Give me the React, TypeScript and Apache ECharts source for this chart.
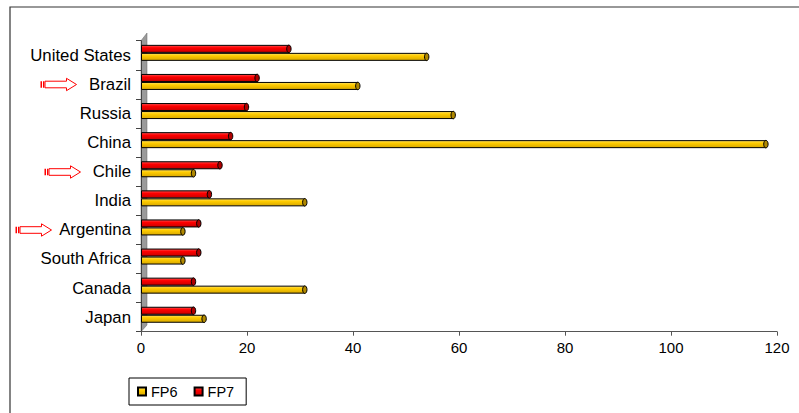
import React, { useEffect, useRef } from "react";
import * as echarts from "echarts";

const categories = ["United States", "Brazil", "Russia", "China", "Chile", "India", "Argentina", "South Africa", "Canada", "Japan"];
const fp6Values = [54, 41, 59, 118, 10, 31, 8, 8, 31, 12];
const fp7Values = [28, 22, 20, 17, 15, 13, 11, 11, 10, 10];

const yellowGrad = new echarts.graphic.LinearGradient(0, 0, 0, 1, [
  { offset: 0, color: "#FFE060" },
  { offset: 0.35, color: "#FFCC00" },
  { offset: 1, color: "#D8A800" },
]);
const redGrad = new echarts.graphic.LinearGradient(0, 0, 0, 1, [
  { offset: 0, color: "#FF5050" },
  { offset: 0.35, color: "#FF0000" },
  { offset: 1, color: "#C80000" },
]);

function arrow(x: number, yc: number) {
  const len = 36;
  const tailW = 4.5;
  const headL = 10;
  const sh = 3.3;
  const hh = 6.2;
  const x0 = x + tailW;
  const xh = x + len - headL;
  const xe = x + len;
  return [
    {
      type: "polygon",
      shape: {
        points: [
          [x0, yc - sh], [xh, yc - sh], [xh, yc - hh], [xe, yc],
          [xh, yc + hh], [xh, yc + sh], [x0, yc + sh],
        ],
      },
      style: { fill: "#fff", stroke: "#FF0000", lineWidth: 1 },
    },
    { type: "rect", shape: { x: x, y: yc - sh, width: 1.5, height: sh * 2 }, style: { fill: "#FF0000" } },
    { type: "rect", shape: { x: x + 2.5, y: yc - sh, width: 1.3, height: sh * 2 }, style: { fill: "#FF0000" } },
  ];
}

function capSeries(name: string, values: number[], dy: number, fill: string) {
  return {
    name,
    type: "custom",
    xAxisIndex: 1,
    yAxisIndex: 1,
    data: values.map((v, i) => [v, i]),
    encode: { x: 0, y: 1 },
    z: 3,
    renderItem: (params: any, api: any) => {
      const p = api.coord([api.value(0), api.value(1)]);
      return {
        type: "ellipse",
        shape: { cx: p[0] - 0.5, cy: p[1] + dy, rx: 2.2, ry: 3.8 },
        style: { fill, stroke: "#000", lineWidth: 1 },
      };
    },
  };
}

export default function App() {
  const ref = useRef<HTMLDivElement>(null);
  useEffect(() => {
    if (!ref.current) return;
    document.body.style.margin = "0";
    const chart = echarts.init(ref.current, undefined, { renderer: "svg" });
    const font = "'Liberation Sans', Arial, sans-serif";
    chart.setOption({
      animation: false,
      backgroundColor: "#fff",
      textStyle: { fontFamily: font },
      grid: [
        { left: 141, right: 22, top: 40.7, bottom: 81.3, containLabel: false },
        { left: 141, right: 22, top: 38.3, bottom: 83.7, containLabel: false },
      ],
      legend: {
        left: 129,
        top: 378,
        data: ["FP6", "FP7"],
        icon: "rect",
        itemWidth: 8,
        itemHeight: 8,
        itemGap: 16,
        padding: [6, 12, 6, 8],
        borderColor: "#000",
        borderWidth: 1,
        textStyle: { fontSize: 14.5, color: "#000", fontFamily: font },
      },
      xAxis: [
        {
          type: "value",
          gridIndex: 0,
          min: 0,
          max: 120,
          interval: 20,
          splitLine: { show: false },
          axisLine: { show: true, lineStyle: { color: "#555", width: 1 } },
          axisTick: { show: true, length: 4, lineStyle: { color: "#555" } },
          axisLabel: { fontSize: 15, color: "#000", margin: 8, fontFamily: font },
        },
        {
          type: "value",
          gridIndex: 1,
          min: 0,
          max: 120,
          interval: 20,
          show: false,
          splitLine: { show: false },
        },
      ],
      yAxis: [
        {
          type: "category",
          gridIndex: 0,
          inverse: true,
          data: categories,
          axisLine: { show: true, lineStyle: { color: "#444" } },
          axisTick: { show: true, length: 5, lineStyle: { color: "#444" } },
          axisLabel: { fontSize: 16.8, color: "#000", margin: 10, fontFamily: font },
        },
        {
          type: "category",
          gridIndex: 1,
          inverse: true,
          data: categories,
          show: false,
        },
      ],
      series: [
        {
          name: "FP7",
          type: "bar",
          xAxisIndex: 1,
          yAxisIndex: 1,
          data: fp7Values,
          barWidth: 8,
          barGap: "0%",
          itemStyle: { color: redGrad, borderColor: "#000", borderWidth: 1 },
        },
        {
          name: "FP6",
          type: "bar",
          xAxisIndex: 1,
          yAxisIndex: 1,
          data: fp6Values,
          barWidth: 8,
          barGap: "0%",
          itemStyle: { color: yellowGrad, borderColor: "#000", borderWidth: 1 },
        },
        capSeries("FP7cap", fp7Values, -4, "#B00000"),
        capSeries("FP6cap", fp6Values, 4, "#B08800"),
      ],
      color: ["#FF0000", "#FFCC00"],
      graphic: [
        {
          type: "rect",
          z: -1,
          shape: { x: 10, y: 7, width: 900, height: 500 },
          style: { fill: "none", stroke: "#333", lineWidth: 1.2 },
        },
        {
          type: "polygon",
          z: -1,
          shape: { points: [[141, 40.7], [147, 33], [147, 325], [141, 331.7]] },
          style: { fill: "#9a9a9a", stroke: "#666", lineWidth: 0.5 },
        },
        ...arrow(40.5, 84.5),
        ...arrow(44.5, 172),
        ...arrow(15.5, 230),
      ],
    });
    return () => chart.dispose();
  }, []);
  return <div ref={ref} style={{ width: 799, height: 413 }} />;
}
